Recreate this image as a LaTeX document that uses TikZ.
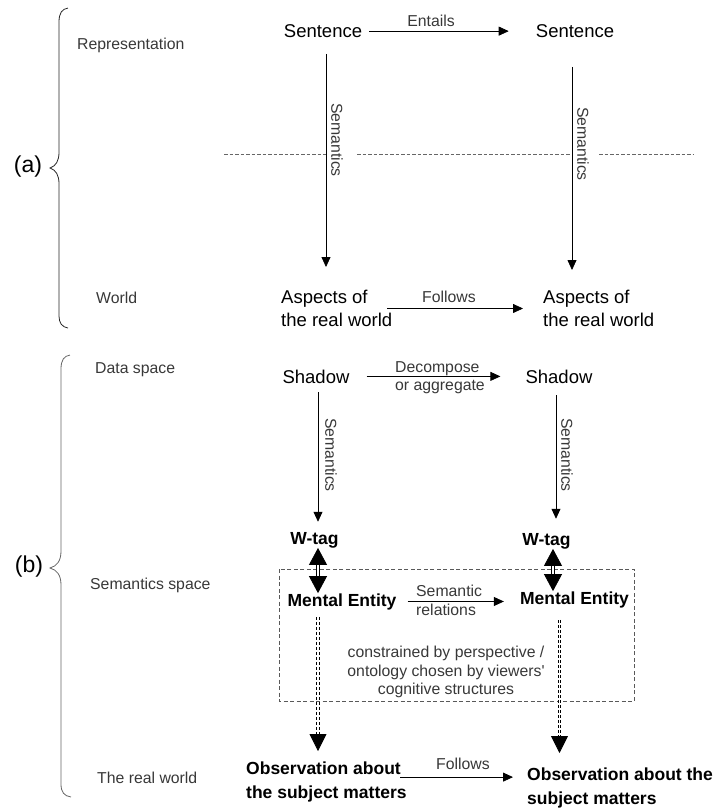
\documentclass[tikz,border=0pt]{standalone}
\usepackage{fontspec}
\setmainfont{Liberation Sans}
\usetikzlibrary{arrows.meta,calc}
\begin{document}
\begin{tikzpicture}[x=1pt,y=-1pt,
  big/.style={inner sep=0pt, font=\fontsize{18.5}{23}\selectfont},
  bbig/.style={inner sep=0pt, font=\fontsize{17.5}{23.5}\selectfont\bfseries},
  lbl/.style={inner sep=0pt, font=\fontsize{15.8}{18.5}\selectfont, text=black!78},
  side/.style={lbl, anchor=west},
  part/.style={inner sep=0pt, font=\fontsize{23}{26}\selectfont},
  arr/.style={draw=black, line width=0.75pt, -{Triangle[length=10pt,width=9pt]}},
  bighead/.style={draw=black, line width=0.75pt, -{Triangle[length=17pt,width=17pt]}},
  bigheads/.style={draw=black, line width=0.75pt, {Triangle[length=17pt,width=18pt]}-{Triangle[length=17pt,width=18pt]}},
  dblshaft/.style={draw=black, line width=0.75pt, double=white, double distance=1.6pt},
  dbldash/.style={dblshaft, dash pattern=on 3pt off 2pt},
  sepline/.style={draw=black!60, line width=0.75pt, dash pattern=on 3.5pt off 2pt},
  boxdash/.style={draw=black!65, line width=0.75pt, dash pattern=on 4pt off 2.5pt},
  brace/.style={line width=0.8pt},
]
\useasboundingbox (0,0) rectangle (720,809);

% separator line in (a)
\draw[sepline] (224,154) -- (326,154);
\draw[sepline] (357,154) -- (571,154);
\draw[sepline] (599,154) -- (694,154);

% dashed box
\draw[boxdash] (279,569) rectangle (634,701);

% braces
\draw[brace, draw=black!85] (68,8) .. controls (62,9) and (59,13) .. (59,22) -- (59,152)
  .. controls (59,161) and (56,166) .. (50,168) .. controls (56,170) and (59,175) .. (59,184)
  -- (59,316) .. controls (59,323) and (62,327) .. (68,328);
\draw[brace, draw=black!60] (70,355) .. controls (64,356) and (61,360) .. (61,369) -- (61,551)
  .. controls (61,561) and (57,566) .. (50,568) .. controls (57,570) and (61,575) .. (61,585)
  -- (61,784) .. controls (61,792) and (64,796) .. (71,797);

% part labels
\node[part] (pa) at (28,167) {(a)};
\node[part] (pb) at (29,567) {(b)};

% side labels
\node[side] (r1) at (77,45) {Representation};
\node[side] (r2) at (96,298) {World};
\node[side] (r3) at (95,370) {Data space};
\node[side] (r4) at (90,585) {Semantics space};
\node[side] (r5) at (97,778) {The real world};

% main nodes
\node[big, anchor=base] (s1) at (323,37.5) {Sentence};
\node[big, anchor=base] (s2) at (575,37.5) {Sentence};
\node[big, anchor=north west, align=left] (a1) at (281,290) {Aspects of\\the real world};
\node[big, anchor=north west, align=left] (a2) at (543,290) {Aspects of\\the real world};
\node[big, anchor=base] (h1) at (316,383) {Shadow};
\node[big, anchor=base] (h2) at (559,383) {Shadow};
\node[bbig, anchor=base] (w1) at (314.5,544) {W-tag};
\node[bbig, anchor=base] (w2) at (546.5,545) {W-tag};
\node[bbig, anchor=base] (m1) at (342,606) {Mental Entity};
\node[bbig, anchor=base] (m2) at (574.5,604) {Mental Entity};
\node[bbig, anchor=north west, align=left] (o1) at (246,762) {Observation about\\the subject matters};
\node[bbig, anchor=north west, align=left] (o2) at (527,768) {Observation about the\\subject matters};

% connector labels
\node[lbl, anchor=base] (le) at (431,26) {Entails};
\node[lbl, anchor=base] (lf1) at (449,302) {Follows};
\node[lbl, anchor=north west, align=left] (ld) at (395,361) {Decompose\\or aggregate};
\node[lbl, anchor=north west, align=left] (lsr) at (416,585) {Semantic\\relations};
\node[lbl, anchor=base] (lf2) at (463,769) {Follows};
\node[lbl, anchor=north, align=center] (lc) at (446,646) {constrained by perspective /\\ontology chosen by viewers\textquotesingle\\cognitive structures};
\node[lbl, rotate=-90] (sa1) at (337,140) {Semantics};
\node[lbl, rotate=-90] (sa2) at (583,144) {Semantics};
\node[lbl, rotate=-90] (sb1) at (331,455) {Semantics};
\node[lbl, rotate=-90] (sb2) at (567,455) {Semantics};

% connectors (a)
\draw[arr, shorten <=7pt, shorten >=27pt] (s1.east) -- (s2.west);
\draw[arr, shorten <=16pt, shorten >=23pt] ([xshift=3pt]s1.south) -- ([xshift=45pt]a1.north west);
\draw[arr, shorten <=29pt, shorten >=20pt] ([xshift=-3pt]s2.south) -- ([xshift=29pt]a2.north west);
\draw[arr, shorten >=20pt] ([xshift=106pt]a1.west) -- (a2.west);

% connectors (b)
\draw[arr, shorten <=17pt, shorten >=25pt] (h1.east) -- (h2.west);
\draw[arr, shorten <=9pt, shorten >=10pt] ([xshift=2pt]h1.south) -- ([xshift=3.5pt]w1.north);
\draw[arr, shorten <=12pt, shorten >=14pt] ([xshift=-3pt]h2.south) -- ([xshift=9.5pt]w2.north);
\draw[arr, shorten <=11pt, shorten >=16pt] (m1.east) -- (m1.east -| m2.west);

\draw[bigheads] ([xshift=3.5pt]w1.south) -- ([xshift=-24pt]m1.north);
\draw[dblshaft, shorten <=17pt, shorten >=17pt] ([xshift=3.5pt]w1.south) -- ([xshift=-24pt]m1.north);
\draw[bigheads] ([xshift=6.5pt]w2.south) -- ([xshift=-21.5pt]m2.north);
\draw[dblshaft, shorten <=17pt, shorten >=17pt] ([xshift=6.5pt]w2.south) -- ([xshift=-21.5pt]m2.north);

\draw[bighead, shorten <=124pt, shorten >=11pt] ([xshift=-24pt]m1.south) -- ([xshift=72pt]o1.north west);
\draw[dbldash, shorten <=7pt, shorten >=28pt] ([xshift=-24pt]m1.south) -- ([xshift=72pt]o1.north west);
\draw[bighead, shorten <=128pt, shorten >=15pt] ([xshift=-15pt]m2.south) -- ([xshift=32.5pt]o2.north west);
\draw[dbldash, shorten <=12pt, shorten >=32pt] ([xshift=-15pt]m2.south) -- ([xshift=32.5pt]o2.north west);

\coordinate (fs) at ($(o1.west)+(154,-5)$);
\draw[arr, shorten >=14pt] (fs) -- (fs -| o2.west);
\end{tikzpicture}
\end{document}
